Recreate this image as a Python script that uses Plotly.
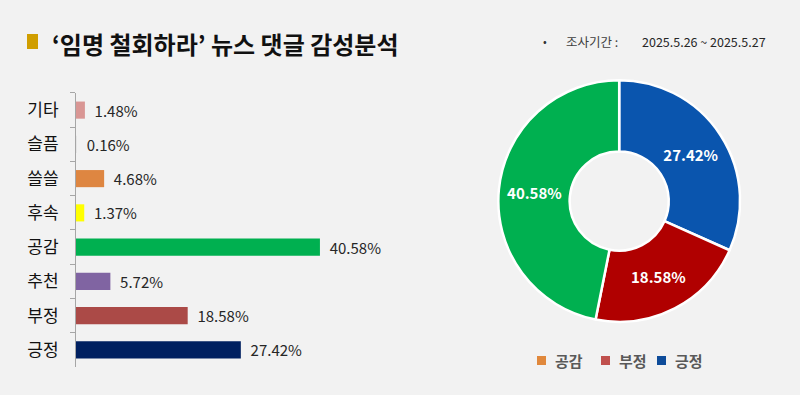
import plotly.graph_objects as go

# ---- data ----
bar_categories = ["기타", "슬픔", "쓸쓸", "후속", "공감", "추천", "부정", "긍정"]
bar_values = [1.48, 0.16, 4.68, 1.37, 40.58, 5.72, 18.58, 27.42]
bar_colors = ["#D99694", "#E6E6E6", "#DE8641", "#FFFF00", "#00B050", "#8064A2", "#AB4A47", "#002060"]

pie_labels = ["긍정", "부정", "공감"]
pie_values = [27.42, 18.58, 40.58]
pie_colors = ["#0A55AE", "#B00000", "#00B050"]

legend_labels = ["공감", "부정", "긍정"]
legend_colors = ["#E0883C", "#C0504D", "#0E4C9A"]

title_text = "‘임명 철회하라’ 뉴스 댓글 감성분석"
period_label = "조사기간 :"
period_text = "2025.5.26 ~ 2025.5.27"

FONT = "Noto Sans CJK KR"

fig = go.Figure()

fig.add_trace(go.Bar(
    y=bar_categories,
    x=bar_values,
    orientation="h",
    marker=dict(color=bar_colors, line=dict(width=0)),
    width=0.5,
    text=[f"  {v:.2f}%" for v in bar_values],
    textposition="outside",
    constraintext="none",
    textfont=dict(family=FONT, size=15, color="#262626"),
    cliponaxis=False,
    showlegend=False,
    hoverinfo="skip",
))

fig.add_trace(go.Pie(
    labels=pie_labels,
    values=pie_values,
    text=[f"<b>{v:.2f}%</b>" for v in pie_values],
    textinfo="text",
    textposition="inside",
    insidetextorientation="horizontal",
    textfont=dict(family=FONT, size=15, color="white"),
    marker=dict(colors=pie_colors, line=dict(color="white", width=2.5)),
    hole=0.41,
    sort=False,
    direction="clockwise",
    rotation=0,
    domain=dict(x=[0.622, 0.926], y=[0.185, 0.797]),
    showlegend=False,
    hoverinfo="skip",
))

fig.update_layout(
    width=800, height=395,
    margin=dict(l=0, r=0, t=0, b=0),
    paper_bgcolor="#F2F2F2",
    plot_bgcolor="#F2F2F2",
    font=dict(family=FONT),
    xaxis=dict(domain=[0.095, 0.5], range=[0, 53.9], visible=False, showgrid=False, zeroline=False),
    yaxis=dict(
        domain=[0.0709, 0.7646],
        autorange="reversed",
        type="category",
        showline=True, linecolor="#A6A6A6", linewidth=1,
        ticks="outside", ticklen=5, tickcolor="#A6A6A6",
        tickson="boundaries",
        showgrid=False,
        tickfont=dict(family=FONT, size=17, color="#111111"),
        ticklabelstandoff=13,
    ),
)

# title
fig.add_shape(type="rect", xref="paper", yref="paper",
              x0=27/800, x1=38/800, y0=1-49/395, y1=1-34/395,
              fillcolor="#D09E00", line=dict(width=0))
fig.add_annotation(xref="paper", yref="paper", x=50/800, y=1-43/395,
                   xanchor="left", yanchor="middle", showarrow=False,
                   text=f"<b>{title_text}</b>",
                   font=dict(family=FONT, size=24, color="#111111"))
# period
fig.add_annotation(xref="paper", yref="paper", x=545/800, y=1-41/395,
                   xanchor="center", yanchor="middle", showarrow=False,
                   text="•", font=dict(family=FONT, size=11, color="#333333"))
fig.add_annotation(xref="paper", yref="paper", x=564/800, y=1-41/395,
                   xanchor="left", yanchor="middle", showarrow=False,
                   text=period_label, font=dict(family=FONT, size=12.5, color="#404040"))
fig.add_annotation(xref="paper", yref="paper", x=640/800, y=1-41/395,
                   xanchor="left", yanchor="middle", showarrow=False,
                   text=period_text, font=dict(family=FONT, size=12.5, color="#262626"))

# donut legend
legend_x = [537, 601, 657]
for lx, lab, col in zip(legend_x, legend_labels, legend_colors):
    fig.add_shape(type="rect", xref="paper", yref="paper",
                  x0=lx/800, x1=(lx+9)/800, y0=1-365/395, y1=1-356/395,
                  fillcolor=col, line=dict(width=0))
    fig.add_annotation(xref="paper", yref="paper", x=(lx+16)/800, y=1-360/395,
                       xanchor="left", yanchor="middle", showarrow=False,
                       text=f"<b>{lab}</b>", font=dict(family=FONT, size=15, color="#595959"))

fig.write_html("out.html")
